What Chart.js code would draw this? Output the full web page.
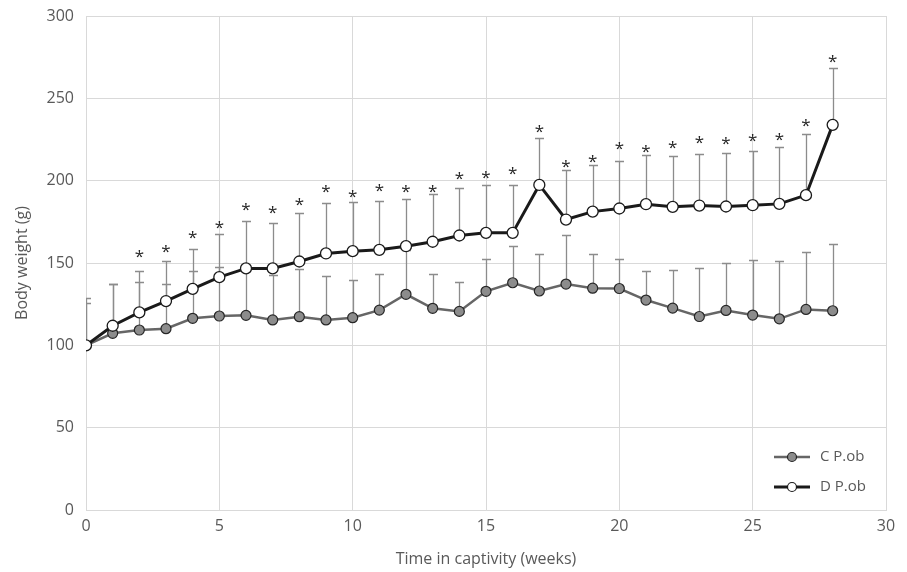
<!DOCTYPE html>
<html>
<head>
<meta charset="utf-8">
<script src="https://cdn.jsdelivr.net/npm/chart.js@4.4.1/dist/chart.umd.min.js"></script>
<style>
  html, body { margin: 0; padding: 0; background: #ffffff; }
  #wrap { width: 907px; height: 572px; }
</style>
</head>
<body>
<div id="wrap"><canvas id="c" width="907" height="572"></canvas></div>
<script>
// ---- data ----
const weeks = [0,1,2,3,4,5,6,7,8,9,10,11,12,13,14,15,16,17,18,19,20,21,22,23,24,25,26,27,28];
const cPob = [100,107.3,109.3,110.1,116.4,117.8,118.2,115.4,117.4,115.4,116.8,121.4,131,122.5,120.6,132.8,138,133,137.2,134.7,134.5,127.5,122.6,117.5,121.2,118.4,116.1,121.8,121];
const cPobSD = [25.5,29.7,28.9,26.9,28.9,29.5,27,27.4,28.9,26.8,23,21.9,27,21.1,17.8,19.9,22.6,22.6,30.1,21,18,17.8,23.3,29.6,29.1,33.3,35.4,35,40.5];
const dPob = [100,111.9,120,126.9,134.3,141.4,146.7,146.7,150.9,155.8,157.2,158,160.2,162.9,166.7,168.3,168.3,197.4,176.4,181.2,183.1,185.7,184.1,184.9,184.3,185.1,185.9,191.2,233.9];
const dPobSD = [28.7,25.1,25.3,24.4,24.1,26.1,28.7,27.3,29.7,30.7,29.8,29.7,28.8,28.9,28.7,29.3,28.9,28.8,30.3,28.2,28.9,29.8,30.9,31.1,32.7,33.2,34.8,37.2,34.5];
// significance marks (*): week and the weight level where the mark sits
const starWeeks = [2,3,4,5,6,7,8,9,10,11,12,13,14,15,16,17,18,19,20,21,22,23,24,25,26,27,28];
const starLevel = [156.4,160.0,168.5,174.2,185.1,183.1,188.2,196.1,193.4,197.0,196.4,196.4,203.9,204.5,207.3,232.5,211.2,214.1,222.1,220.7,222.8,226.2,225.5,227.2,227.6,236.0,275.3];
const seriesNames = ['C P.ob', 'D P.ob'];
const xTitle = 'Time in captivity (weeks)';
const yTitle = 'Body weight (g)';

const FONT = "'Open Sans', sans-serif";
const TXT = '#595959';

const errorBars = {
  id: 'errorBars',
  beforeDatasetsDraw(chart) {
    const {ctx, chartArea: a, scales: {x, y}} = chart;
    ctx.save();
    ctx.beginPath();
    ctx.rect(a.left, a.top, a.right - a.left, a.bottom - a.top);
    ctx.clip();
    ctx.strokeStyle = '#8c8c8c';
    ctx.lineWidth = 1.3;
    chart.data.datasets.forEach(ds => {
      ds.data.forEach((p, i) => {
        const px = Math.round(x.getPixelForValue(p.x)) + 0.5;
        const y0 = y.getPixelForValue(p.y);
        const y1 = Math.round(y.getPixelForValue(p.y + ds.sd[i])) + 0.5;
        ctx.beginPath();
        ctx.moveTo(px, y0);
        ctx.lineTo(px, y1);
        ctx.moveTo(px - 4.5, y1);
        ctx.lineTo(px + 4.5, y1);
        ctx.stroke();
      });
    });
    ctx.restore();
  }
};

const starsAndLegend = {
  id: 'starsAndLegend',
  afterDraw(chart) {
    const {ctx, scales: {x, y}} = chart;
    ctx.save();
    ctx.fillStyle = '#262626';
    ctx.font = "17px " + FONT;
    ctx.textAlign = 'center';
    ctx.textBaseline = 'alphabetic';
    starWeeks.forEach((w, i) => {
      ctx.fillText('*', x.getPixelForValue(w), y.getPixelForValue(starLevel[i]) + 10);
    });
    // legend
    const items = chart.data.datasets;
    const lx0 = 774, lx1 = 810, tx = 820;
    const rows = [457, 487];
    items.forEach((ds, i) => {
      const ly = rows[i];
      ctx.strokeStyle = ds.borderColor;
      ctx.lineWidth = ds.borderWidth;
      ctx.beginPath();
      ctx.moveTo(lx0, ly);
      ctx.lineTo(lx1, ly);
      ctx.stroke();
      ctx.beginPath();
      ctx.arc((lx0 + lx1) / 2, ly, 4.5, 0, Math.PI * 2);
      ctx.fillStyle = ds.pointBackgroundColor;
      ctx.fill();
      ctx.lineWidth = 1.2;
      ctx.strokeStyle = ds.pointBorderColor;
      ctx.stroke();
      ctx.fillStyle = TXT;
      ctx.font = "15px " + FONT;
      ctx.textAlign = 'left';
      ctx.textBaseline = 'middle';
      ctx.fillText(ds.label, tx, ly);
    });
    ctx.restore();
  }
};

new Chart(document.getElementById('c'), {
  type: 'line',
  data: {
    datasets: [
      {
        label: seriesNames[0],
        data: weeks.map((w, i) => ({x: w, y: cPob[i]})),
        sd: cPobSD,
        borderColor: '#666666',
        borderWidth: 2.5,
        pointBackgroundColor: '#8c8c8c',
        pointBorderColor: '#262626',
        pointBorderWidth: 1.2,
        pointRadius: 5,
        tension: 0,
        order: 1
      },
      {
        label: seriesNames[1],
        data: weeks.map((w, i) => ({x: w, y: dPob[i]})),
        sd: dPobSD,
        borderColor: '#1a1a1a',
        borderWidth: 3,
        pointBackgroundColor: '#ffffff',
        pointBorderColor: '#1a1a1a',
        pointBorderWidth: 1.3,
        pointRadius: 5.5,
        tension: 0,
        order: 0
      }
    ]
  },
  options: {
    responsive: false,
    animation: false,
    events: [],
    layout: { padding: { left: 0, right: 21, top: 16, bottom: 0 } },
    plugins: { legend: { display: false }, tooltip: { enabled: false } },
    scales: {
      x: {
        type: 'linear', min: 0, max: 30,
        ticks: { stepSize: 5, color: TXT, font: { family: FONT, size: 16 }, padding: 7, maxRotation: 0 },
        grid: { color: '#d9d9d9', lineWidth: 1, drawTicks: false },
        border: { color: '#d9d9d9' },
        title: { display: true, text: xTitle, color: TXT, font: { family: FONT, size: 16 }, padding: { top: 0, bottom: 3 } },
        afterFit(s) { s.height = 62; s.paddingLeft = 0; s.paddingRight = 0; }
      },
      y: {
        min: 0, max: 300,
        ticks: { stepSize: 50, color: TXT, font: { family: FONT, size: 16 }, padding: 12 },
        grid: { color: '#d9d9d9', lineWidth: 1, drawTicks: false },
        border: { color: '#d9d9d9' },
        title: { display: true, text: yTitle, color: TXT, font: { family: FONT, size: 16 }, padding: { top: 13, bottom: 0 } },
        afterFit(s) { s.width = 86; s.paddingTop = 0; s.paddingBottom = 0; }
      }
    }
  },
  plugins: [errorBars, starsAndLegend]
});
</script>
</body>
</html>
